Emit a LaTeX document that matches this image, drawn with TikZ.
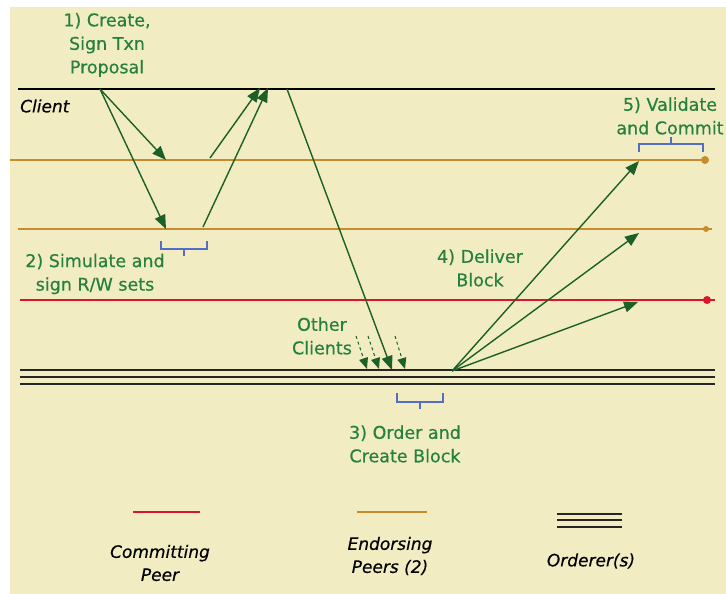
\documentclass[tikz,border=0pt]{standalone}
\usepackage{fontspec}
\setmainfont{DejaVu Sans}
\newfontfamily\medfont{DejaVu Sans}[FakeBold=0.5]
\newfontfamily\meditfont{DejaVu Sans Oblique}[FakeBold=0.4]
\usetikzlibrary{arrows.meta}
\definecolor{bg}{RGB}{242,236,194}
\definecolor{endorse}{RGB}{200,140,45}
\definecolor{commitred}{RGB}{218,22,40}
\definecolor{lblgreen}{RGB}{38,128,62}
\definecolor{arrgreen}{RGB}{28,96,40}
\definecolor{brk}{RGB}{84,110,200}
\begin{document}
\begin{tikzpicture}[x=1pt,y=-1pt,
  lbl/.style={text=lblgreen,align=center,inner sep=0pt,font=\medfont\fontsize{17.5}{23.5}\selectfont},
  blk/.style={text=black,align=center,inner sep=0pt,font=\meditfont\fontsize{17}{23}\selectfont},
  msg/.style={draw=arrgreen,line width=1.4pt,-{Triangle[length=14pt,width=11pt]}},
  oth/.style={draw=arrgreen,line width=1pt,dashed,-{Triangle[length=11pt,width=9pt]}},
  endl/.style={draw=endorse,line width=2pt},
  brace/.style={draw=brk,line width=1.1pt}]
\useasboundingbox (0,0) rectangle (726,594);
\fill[white] (0,0) rectangle (726,594);
\fill[bg] (10,7) rectangle (726,594);

% lifelines
\draw[black,line width=2.8pt] (18,89) -- (715,89);
\draw[endl] (10,160) -- (706,160);
\fill[endorse] (705,160) circle (4);
\draw[endl] (18,229) -- (712,229);
\fill[endorse] (706,229) circle (3);
\draw[commitred,line width=2.4pt] (20,300) -- (715,300);
\fill[commitred] (707,300) circle (4);
\foreach \yy in {370,377,384} \draw[black!85,line width=1.6pt] (20,\yy) -- (715,\yy);

% coordinates
\coordinate (c0) at (100,89);
\coordinate (e1in) at (166,160);
\coordinate (e2in) at (166,229);
\coordinate (e1out) at (210,158);
\coordinate (e2out) at (203,227);
\coordinate (cin1) at (260,88);
\coordinate (cin2) at (268,88);
\coordinate (cout) at (287,89);
\coordinate (oin) at (392,370);
\coordinate (oc1s) at (356,336);
\coordinate (oc1e) at (367,369);
\coordinate (oc2s) at (368,336);
\coordinate (oc2e) at (379,369);
\coordinate (oc3s) at (395,336);
\coordinate (oc3e) at (405,369);
\coordinate (oout) at (452,371);
\coordinate (d1) at (639,161);
\coordinate (d2) at (639,233);
\coordinate (d3) at (638,302);

% messages
\draw[msg] (c0) -- (e1in);
\draw[msg] (c0) -- (e2in);
\draw[msg] (e1out) -- (cin1);
\draw[msg] (e2out) -- (cin2);
\draw[msg] (cout) -- (oin);
\draw[oth] (oc1s) -- (oc1e);
\draw[oth] (oc2s) -- (oc2e);
\draw[oth] (oc3s) -- (oc3e);
\draw[msg] (oout) -- (d1);
\draw[msg] (oout) -- (d2);
\draw[msg] (oout) -- (d3);

% braces
\draw[brace] (161,241) -- (161,249) -- (207,249) -- (207,241) (184,249) -- (184,256);
\draw[brace] (639,152) -- (639,144) -- (703,144) -- (703,152) (671,144) -- (671,137);
\draw[brace] (397,393) -- (397,402) -- (443,402) -- (443,393) (420,402) -- (420,409);

% labels
\node[lbl] (l1) at (107,45) {1) Create,\\Sign Txn\\Proposal};
\node[blk,anchor=west] (lc) at (20,106) {Client};
\node[lbl] (l2) at (95,274) {2) Simulate and\\sign R/W sets};
\node[lbl] (l3) at (405,444) {3) Order and\\Create Block};
\node[lbl] (l4) at (480,268) {4) Deliver\\Block};
\node[lbl] (l5) at (670,116) {5) Validate\\and Commit};
\node[lbl] (lo) at (322,336) {Other\\Clients};

% legend
\draw[commitred,line width=2.4pt] (133,512) -- (200,512);
\draw[endl] (357,512) -- (427,512);
\foreach \yy in {514,520,527} \draw[black!85,line width=1.3pt] (557,\yy) -- (622,\yy);
\node[blk] (lg1) at (160,563) {Committing\\Peer};
\node[blk] (lg2) at (390,556) {Endorsing\\Peers (2)};
\node[blk] (lg3) at (591,561) {Orderer(s)};
\end{tikzpicture}
\end{document}
